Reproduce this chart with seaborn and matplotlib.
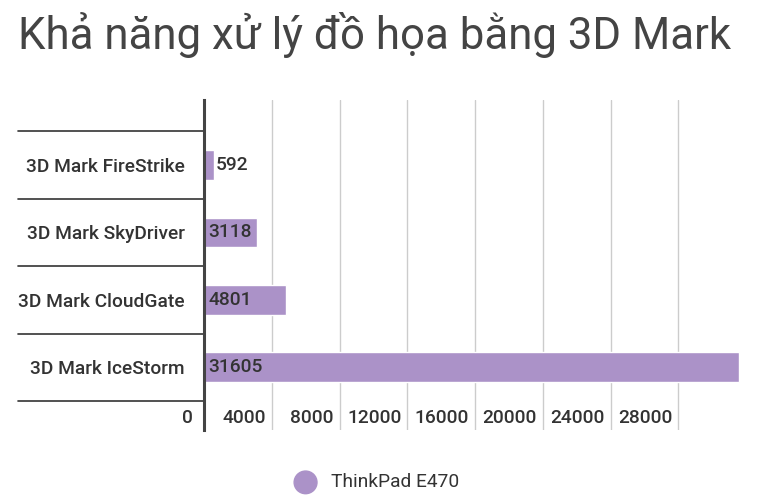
import matplotlib
matplotlib.use("Agg")
import matplotlib.pyplot as plt
import seaborn as sns
import pandas as pd

categories = ["3D Mark FireStrike", "3D Mark SkyDriver", "3D Mark CloudGate", "3D Mark IceStorm"]
values = [592, 3118, 4801, 31605]
ticks = [0, 4000, 8000, 12000, 16000, 20000, 24000, 28000]
series_name = "ThinkPad E470"

sns.set_theme(style="white")
plt.rcParams['font.family'] = ['Roboto', 'DejaVu Sans']

df = pd.DataFrame({"cat": categories, "val": values})
fig = plt.figure(figsize=(7.62, 5.03), dpi=100)
ax = fig.add_axes([0.268, 0.145, 0.711, 0.656])
color = "#ab92c8"
sns.barplot(data=df, x="val", y="cat", color=color, width=0.44, ax=ax, saturation=1)

fs = 13.8
ax.set_xlim(0, 32000)
ax.set_ylim(3.5 + 0.43, -0.5 - 0.46)
for t in ticks[1:]:
    ax.axvline(t, color="#cccccc", lw=1, zorder=0)
for s in ["top", "right", "bottom"]:
    ax.spines[s].set_visible(False)
ax.spines["left"].set_color("#444444")
ax.spines["left"].set_linewidth(2.2)
ax.set_xticks([])
ax.set_xlabel(""); ax.set_ylabel("")
ax.tick_params(axis="y", length=0, pad=14, labelsize=fs, labelcolor="#333333")
for lab in ax.get_yticklabels():
    lab.set_fontweight("medium")
tr = ax.get_yaxis_transform()
for y in [-0.5, 0.5, 1.5, 2.5, 3.5]:
    ax.plot([-0.343, 0], [y, y], transform=tr, color="#333333", lw=1.2, clip_on=False)
xt = ax.get_xaxis_transform()
for t in ticks:
    ax.text(t - 350 if t else -650, 0.036, str(t), transform=xt, ha="right", va="center",
            fontsize=fs, color="#333333", fontweight="medium")
for i, v in enumerate(values):
    x = v + 80 if v < 1500 else 250
    ax.text(x, i, str(v), va="center", ha="left", fontsize=fs, color="#333333", fontweight="medium")

fig.text(0.024, 0.93, "Khả năng xử lý đồ họa bằng 3D Mark", fontsize=31.5, color="#444444",
         va="center", ha="left")
fig.patches.append(matplotlib.patches.Ellipse((0.401, 0.041), 0.03, 0.045, transform=fig.transFigure,
                                              color=color, figure=fig))
fig.text(0.435, 0.041, series_name, fontsize=fs, color="#333333", va="center", ha="left")
fig.savefig("out.png", dpi=100)
